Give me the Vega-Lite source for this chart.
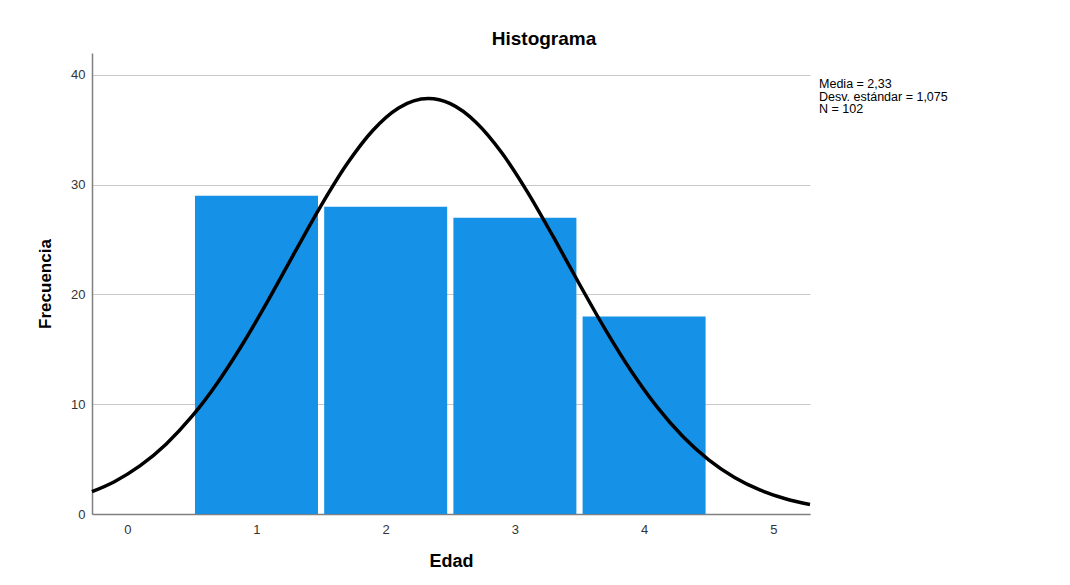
{
  "$schema": "https://vega.github.io/schema/vega-lite/v6.json",
  "autosize": "none",
  "width": 718,
  "height": 461,
  "padding": {"left": 92, "top": 53, "right": 260, "bottom": 71},
  "background": "white",
  "config": {"font": "Liberation Sans", "view": {"stroke": null}},
  "title": {"text": "Histograma", "fontSize": 19, "fontWeight": "bold", "color": "#000000", "anchor": "middle", "dx": 93, "dy": 19, "offset": 8, "baseline": "alphabetic"},
  "datasets": {
    "bins": [
      {"Edad": 1, "Frecuencia": 29},
      {"Edad": 2, "Frecuencia": 28},
      {"Edad": 3, "Frecuencia": 27},
      {"Edad": 4, "Frecuencia": 18}
    ],
    "curva": [
      {"x": -0.273, "y": 2.03},
      {"x": -0.1, "y": 2.942},
      {"x": 0.1, "y": 4.401},
      {"x": 0.3, "y": 6.364},
      {"x": 0.5, "y": 8.888},
      {"x": 0.7, "y": 11.99},
      {"x": 0.9, "y": 15.624},
      {"x": 1.1, "y": 19.669},
      {"x": 1.3, "y": 23.919},
      {"x": 1.5, "y": 28.095},
      {"x": 1.7, "y": 31.878},
      {"x": 1.9, "y": 34.94},
      {"x": 2.1, "y": 36.993},
      {"x": 2.33, "y": 37.85},
      {"x": 2.5, "y": 37.38},
      {"x": 2.7, "y": 35.673},
      {"x": 2.9, "y": 32.886},
      {"x": 3.1, "y": 29.286},
      {"x": 3.3, "y": 25.193},
      {"x": 3.5, "y": 20.934},
      {"x": 3.7, "y": 16.803},
      {"x": 3.9, "y": 13.028},
      {"x": 4.1, "y": 9.758},
      {"x": 4.3, "y": 7.061},
      {"x": 4.5, "y": 4.935},
      {"x": 4.7, "y": 3.332},
      {"x": 4.9, "y": 2.173},
      {"x": 5.1, "y": 1.369},
      {"x": 5.284, "y": 0.86}
    ],
    "stats": [
      {"texto": "Media = 2,33\nDesv. estándar = 1,075\nN = 102"}
    ]
  },
  "layer": [
    {
      "data": {"name": "bins"},
      "mark": {"type": "bar", "color": "#1591E7", "size": 123},
      "encoding": {
        "x": {
          "field": "Edad", "type": "quantitative",
          "scale": {"domain": [-0.273, 5.284], "nice": false, "zero": false, "padding": 0},
          "axis": {"title": "Edad", "values": [0, 1, 2, 3, 4, 5], "format": "d", "ticks": false, "grid": false,
            "domainColor": "#808080", "domainWidth": 1.5, "labelFontSize": 13, "labelColor": "#333333", "labelPadding": 9, "labelFlush": false,
            "titleFontSize": 18, "titleFontWeight": "bold", "titleColor": "#000000", "titlePadding": 16}
        },
        "y": {
          "field": "Frecuencia", "type": "quantitative",
          "scale": {"domain": [0, 42], "nice": false},
          "axis": {"title": "Frecuencia", "values": [0, 10, 20, 30, 40], "ticks": false, "grid": true, "gridColor": "#c8c8c8", "gridWidth": 1.2,
            "domainColor": "#808080", "domainWidth": 1.5, "labelFontSize": 13, "labelColor": "#333333", "labelPadding": 7,
            "titleFontSize": 17, "titleFontWeight": "bold", "titleColor": "#000000", "titlePadding": 16}
        }
      }
    },
    {
      "data": {"name": "curva"},
      "mark": {"type": "line", "color": "#000000", "strokeWidth": 3.5, "interpolate": "monotone"},
      "encoding": {
        "x": {"field": "x", "type": "quantitative"},
        "y": {"field": "y", "type": "quantitative"}
      }
    },
    {
      "data": {"name": "stats"},
      "mark": {"type": "text", "align": "left", "baseline": "alphabetic", "fontSize": 12.5, "lineBreak": "\n", "lineHeight": 12.5, "color": "#000000", "clip": false},
      "encoding": {
        "x": {"datum": 5.354},
        "y": {"datum": 38.8},
        "text": {"field": "texto"}
      }
    }
  ]
}
